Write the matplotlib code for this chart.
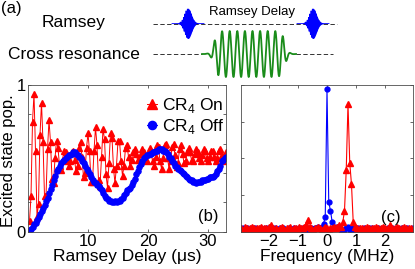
import numpy as np
import matplotlib
matplotlib.use('Agg')
import matplotlib.pyplot as plt

plt.rcParams['font.family'] = ['Liberation Sans', 'DejaVu Sans']
plt.rcParams['mathtext.fontset'] = 'custom'
plt.rcParams['mathtext.rm'] = 'Liberation Sans'

# ---- panel (b): Ramsey fringes, delay in us (0.25 us steps)
delay = 0.25 * np.arange(1, 133)

cr_on = [0.07, 0.24, 0.75, 0.94, 0.55, 0.10, 0.19, 0.66, 0.88, 0.61,
         0.24, 0.24, 0.56, 0.76, 0.61, 0.36, 0.33, 0.50, 0.62, 0.57,
         0.45, 0.42, 0.49, 0.55, 0.54, 0.48, 0.45, 0.48, 0.54, 0.55,
         0.49, 0.41, 0.45, 0.57, 0.61, 0.51, 0.37, 0.40, 0.57, 0.67,
         0.55, 0.34, 0.34, 0.55, 0.71, 0.59, 0.35, 0.31, 0.51, 0.70,
         0.63, 0.39, 0.30, 0.47, 0.67, 0.64, 0.43, 0.33, 0.45, 0.62,
         0.62, 0.48, 0.38, 0.45, 0.57, 0.59, 0.51, 0.45, 0.49, 0.54,
         0.56, 0.53, 0.49, 0.49, 0.53, 0.56, 0.54, 0.49, 0.48, 0.53,
         0.57, 0.55, 0.48, 0.45, 0.51, 0.59, 0.58, 0.48, 0.43, 0.50,
         0.59, 0.60, 0.50, 0.43, 0.48, 0.58, 0.60, 0.52, 0.44, 0.47,
         0.56, 0.59, 0.53, 0.47, 0.48, 0.54, 0.57, 0.54, 0.49, 0.48,
         0.53, 0.56, 0.54, 0.50, 0.48, 0.52, 0.56, 0.55, 0.50, 0.48,
         0.51, 0.55, 0.55, 0.51, 0.48, 0.50, 0.55, 0.56, 0.52, 0.48,
         0.50, 0.54]

cr_off = [0.01, 0.02, 0.03, 0.05, 0.06, 0.08, 0.10, 0.12, 0.14, 0.16,
          0.18, 0.21, 0.23, 0.26, 0.29, 0.32, 0.35, 0.38, 0.41, 0.43,
          0.45, 0.47, 0.48, 0.49, 0.50, 0.51, 0.52, 0.52, 0.53, 0.54,
          0.54, 0.53, 0.52, 0.51, 0.50, 0.48, 0.47, 0.45, 0.43, 0.41,
          0.39, 0.37, 0.35, 0.34, 0.33, 0.32, 0.31, 0.30, 0.28, 0.26,
          0.24, 0.23, 0.22, 0.21, 0.21, 0.20, 0.20, 0.21, 0.20, 0.21,
          0.21, 0.22, 0.23, 0.25, 0.26, 0.28, 0.29, 0.30, 0.32, 0.34,
          0.36, 0.39, 0.41, 0.44, 0.46, 0.48, 0.50, 0.51, 0.52, 0.52,
          0.53, 0.53, 0.54, 0.54, 0.55, 0.55, 0.56, 0.56, 0.56, 0.55,
          0.55, 0.54, 0.53, 0.51, 0.50, 0.48, 0.47, 0.45, 0.44, 0.43,
          0.42, 0.41, 0.40, 0.39, 0.38, 0.37, 0.36, 0.35, 0.35, 0.34,
          0.34, 0.33, 0.34, 0.34, 0.34, 0.35, 0.35, 0.35, 0.36, 0.36,
          0.37, 0.37, 0.37, 0.38, 0.39, 0.41, 0.43, 0.45, 0.48, 0.49,
          0.50, 0.51]

# ---- panel (c): spectra, frequency in MHz (0.06 MHz steps)
freq = np.round(-2.94 + 0.06 * np.arange(99), 2)

fft_off = [.01, .02, .01, .02, .01, .01, .02, .01, .02, .01,
           .01, .02, .01, .01, .02, .01, .02, .01, .01, .02,
           .01, .01, .02, .01, .02, .01, .01, .02, .01, .01,
           .02, .01, .01, .02, .01, .02, .01, .01, .02, .01,
           .02, .01, .02, .02, .03, .02, .03, .05, .10, .97,
           .20, .14, .06, .03, .02, .03, .02, .01, .00, .01,
           .02, .03, .01, .02, .01, .02, .01, .02, .01, .01,
           .02, .01, .01, .02, .01, .02, .01, .01, .02, .01,
           .01, .02, .01, .01, .02, .01, .02, .01, .01, .02,
           .01, .01, .02, .01, .01, .02, .01, .01, .02]

fft_on = [.02, .01, .03, .02, .01, .02, .03, .02, .01, .02,
          .02, .03, .01, .02, .02, .01, .03, .04, .02, .01,
          .02, .01, .02, .03, .02, .01, .02, .02, .03, .01,
          .02, .02, .01, .03, .02, .02, .03, .04, .08, .03,
          .02, .01, .02, .02, .03, .02, .01, .02, .03, .02,
          .01, .02, .02, .03, .02, .03, .04, .03, .06, .14,
          .42, .87, .47, .32, .06, .03, .02, .01, .02, .02,
          .01, .02, .03, .02, .01, .02, .02, .03, .02, .01,
          .02, .03, .02, .01, .02, .04, .02, .01, .02, .03,
          .02, .01, .02, .03, .02, .01, .02, .02, .01]

RED = '#ff0000'
BLUE = '#0000ff'
GREEN = '#1a8c1a'

fig = plt.figure(figsize=(4.15, 2.69), dpi=100)

# ---- panel (a): pulse schematic, drawn in pixel coordinates
ax_a = fig.add_axes([0, 1 - 80 / 269, 1, 80 / 269])
ax_a.set_xlim(0, 415)
ax_a.set_ylim(80, 0)
ax_a.axis('off')
ax_a.patch.set_alpha(0)

ax_a.text(1, 9, '(a)', fontsize=12, va='center', ha='left')
ax_a.text(74, 22, 'Ramsey', fontsize=12.5, va='center', ha='center')
ax_a.text(74, 54, 'Cross resonance', fontsize=12.5, va='center', ha='center')
ax_a.text(252, 12, 'Ramsey Delay', fontsize=9.5, va='center', ha='center')

dash = (0, (4.5, 2.5))
ramsey_y = 23.5
ax_a.plot([153, 337], [ramsey_y, ramsey_y], color='0.2', lw=0.7, ls=dash)
for c in [188, 313]:
    xx = np.linspace(c - 16, c + 16, 400)
    env = np.exp(-((xx - c) / 4.8) ** 2)
    ax_a.fill_between(xx, ramsey_y - 15 * env, ramsey_y + 15 * env, color=BLUE, lw=0)
    ax_a.plot(xx, ramsey_y + 15 * env * np.cos(2 * np.pi * (xx - c) / 1.3), color=BLUE, lw=0.6)

cr_y = 54
ax_a.plot([153, 202], [cr_y, cr_y], color='0.2', lw=0.7, ls=dash)
ax_a.plot([296, 333], [cr_y, cr_y], color='0.2', lw=0.7, ls=dash)
xx = np.linspace(202, 296, 1500)
env = 0.5 * (np.tanh((xx - 214) / 3.5) - np.tanh((xx - 285) / 3.5))
ax_a.plot(xx, cr_y - 23 * env * np.sin(2 * np.pi * (xx - 205) / 7.6), color=GREEN, lw=1.3)

# ---- panel (b)
ax_b = fig.add_axes([28 / 415, 1 - 231.5 / 269, 198 / 415, 146.5 / 269])
ax_b.plot(delay, cr_on, '-^', color=RED, ms=4.3, lw=0.7, label='CR$_4$ On')
ax_b.plot(delay, cr_off, '-o', color=BLUE, ms=3.7, lw=0.7, label='CR$_4$ Off')
ax_b.set_xlim(0, 33)
ax_b.set_ylim(0, 1)
ax_b.set_xticks([10, 20, 30])
ax_b.set_yticks([0, 0.2, 0.4, 0.6, 0.8, 1])
ax_b.set_yticklabels(['0', '', '', '', '', '1'])
ax_b.set_xlabel('Ramsey Delay (\u03bcs)', fontsize=12.5, labelpad=0)
ax_b.set_ylabel('Excited state pop.', fontsize=12)
ax_b.yaxis.set_label_coords(-0.06, 0.48)
ax_b.text(0.96, 0.1, '(b)', transform=ax_b.transAxes, fontsize=12, ha='right', va='center')
ax_b.legend(loc='upper right', bbox_to_anchor=(1.03, 0.97), frameon=False, fontsize=12.5,
            numpoints=1, markerscale=1.6, handlelength=0.6, handletextpad=0.3,
            labelspacing=0.1, borderaxespad=0)

# ---- panel (c)
ax_c = fig.add_axes([241 / 415, 1 - 232 / 269, 172 / 415, 147 / 269])
ax_c.plot(freq, fft_off, '-o', color=BLUE, ms=3.5, lw=0.8)
ax_c.plot(freq, fft_on, '-^', color=RED, ms=3.8, lw=0.8)
ax_c.set_xlim(-2.95, 2.95)
ax_c.set_ylim(-0.005, 1)
ax_c.set_xticks([-2, -1, 0, 1, 2])
ax_c.set_yticks([0, 0.25, 0.5, 0.75, 1])
ax_c.set_yticklabels([])
ax_c.set_xlabel('Frequency (MHz)', fontsize=12.5, labelpad=0)
ax_c.text(0.93, 0.1, '(c)', transform=ax_c.transAxes, fontsize=12, ha='right', va='center')

for ax in [ax_b, ax_c]:
    ax.tick_params(direction='in', length=2.5, width=0.6, top=True, right=True,
                   labelsize=12, pad=1.5, color='0.3')
    for s in ax.spines.values():
        s.set_linewidth(0.6)
        s.set_color('0.3')

fig.savefig('out.png', dpi=100)
